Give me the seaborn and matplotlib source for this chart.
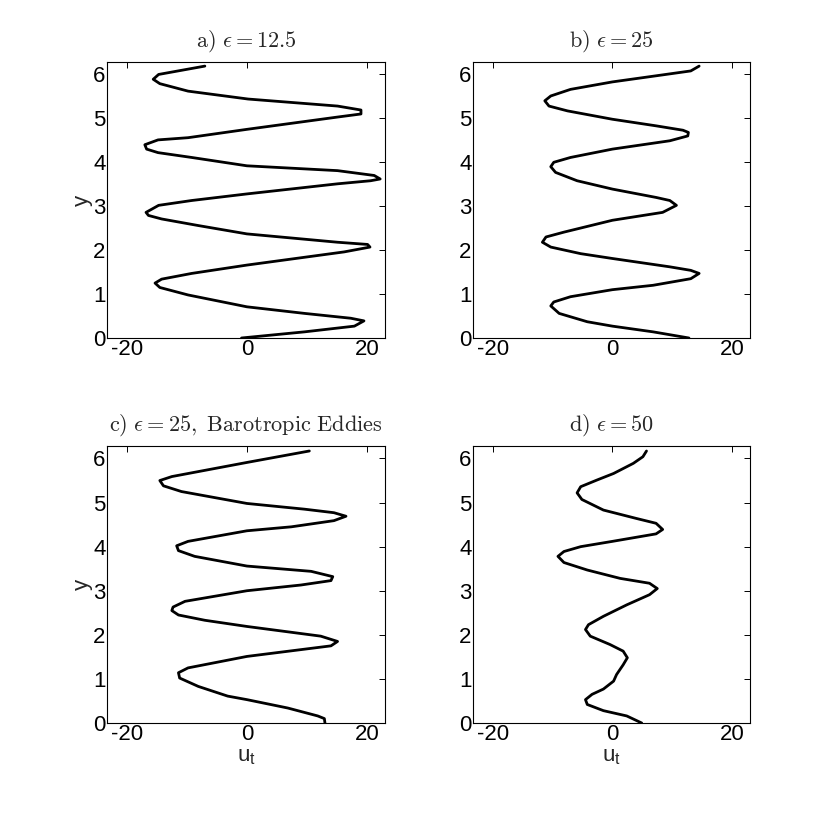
import matplotlib
matplotlib.use("Agg")
import matplotlib.pyplot as plt
import seaborn as sns
import numpy as np

sns.set_theme(style="white")
plt.rcParams['font.family'] = ['Liberation Sans', 'DejaVu Sans']
plt.rcParams['axes.unicode_minus'] = False
plt.rcParams['mathtext.fontset'] = 'custom'
plt.rcParams['mathtext.rm'] = 'Liberation Sans'
plt.rcParams['mathtext.it'] = 'Liberation Sans'

# panel a) eps = 12.5
y_a = [0.00, 0.14, 0.27, 0.39, 0.45, 0.56, 0.71, 0.98, 1.15, 1.25, 1.34, 1.47, 1.66, 1.96, 2.07,
       2.13, 2.18, 2.37, 2.56, 2.71, 2.79, 2.86, 3.02, 3.13, 3.28, 3.51, 3.58, 3.62, 3.70, 3.81,
       3.92, 4.11, 4.22, 4.30, 4.40, 4.51, 4.56, 4.75, 5.03, 5.10, 5.19, 5.28, 5.44, 5.62, 5.79,
       5.89, 6.00, 6.19]
u_a = [-0.9, 9.6, 17.9, 19.5, 17.3, 9.6, 0.0, -9.8, -14.5, -15.3, -14.2, -9.2, 0.0, 16.2, 20.5,
       20.1, 15.1, 0.0, -8.1, -14.2, -16.4, -16.8, -14.7, -9.2, 0.0, 15.1, 20.6, 22.2, 21.2, 15.1,
       0.0, -9.2, -14.8, -16.7, -17.0, -14.8, -9.8, 0.0, 15.1, 19.0, 19.0, 15.1, 0.2, -9.8, -14.5,
       -15.6, -14.7, -7.0]

# panel b) eps = 25
y_b = [0.00, 0.14, 0.27, 0.37, 0.56, 0.73, 0.82, 0.94, 1.10, 1.20, 1.35, 1.47, 1.54, 1.62, 1.81,
       1.92, 2.07, 2.18, 2.30, 2.41, 2.68, 2.86, 3.02, 3.13, 3.20, 3.39, 3.58, 3.77, 3.90, 4.00,
       4.11, 4.30, 4.49, 4.60, 4.68, 4.73, 4.83, 4.98, 5.17, 5.28, 5.40, 5.51, 5.66, 5.83, 5.99,
       6.08, 6.19]
u_b = [12.8, 6.8, 0.0, -4.2, -8.9, -10.3, -9.8, -7.0, 0.0, 6.8, 13.1, 14.5, 13.1, 9.6, 0.0,
       -5.3, -10.3, -11.7, -11.1, -8.1, 0.0, 8.4, 10.7, 9.6, 7.3, 0.0, -5.9, -9.5, -10.3, -9.8,
       -7.0, 0.0, 9.6, 12.6, 12.7, 11.8, 7.3, 0.0, -7.5, -10.6, -11.3, -10.3, -7.0, 0.0, 8.4,
       13.1, 14.5]

# panel c) eps = 25, barotropic eddies
y_c = [0.00, 0.10, 0.16, 0.34, 0.53, 0.61, 0.83, 1.02, 1.14, 1.25, 1.51, 1.75, 1.85, 1.97, 2.19,
       2.33, 2.45, 2.55, 2.63, 2.76, 3.00, 3.13, 3.23, 3.32, 3.44, 3.56, 3.78, 3.91, 4.02, 4.12,
       4.36, 4.45, 4.59, 4.69, 4.77, 4.85, 4.98, 5.25, 5.38, 5.50, 5.59, 5.91, 6.17]
u_c = [13.0, 12.9, 11.8, 6.8, 0.0, -3.2, -8.1, -11.2, -11.4, -9.8, 0.0, 14.0, 15.1, 12.3, 0.0,
       -7.0, -11.4, -12.5, -12.3, -10.3, 0.0, 9.0, 14.0, 14.3, 10.7, 0.0, -8.7, -11.4, -11.7, -9.8,
       0.0, 7.4, 14.5, 16.5, 14.5, 9.6, 0.0, -10.9, -13.9, -14.5, -12.5, 0.0, 10.4]

# panel d) eps = 50
y_d = [0.00, 0.16, 0.28, 0.42, 0.53, 0.65, 0.77, 0.95, 1.10, 1.32, 1.48, 1.63, 1.78, 1.97, 2.12,
       2.23, 2.42, 2.68, 2.91, 3.05, 3.17, 3.28, 3.47, 3.64, 3.78, 3.89, 4.00, 4.12, 4.29, 4.39,
       4.53, 4.64, 4.83, 5.07, 5.22, 5.36, 5.51, 5.66, 5.89, 6.04, 6.17]
u_d = [4.9, 2.4, -1.5, -4.2, -4.5, -3.4, -1.5, 0.2, 0.7, 1.8, 2.5, 1.8, -0.4, -3.7, -4.5,
       -4.0, -1.5, 2.4, 6.2, 7.5, 6.2, 1.3, -4.2, -8.1, -9.1, -8.1, -5.3, 0.0, 7.3, 8.4,
       7.3, 4.0, -1.5, -5.1, -5.9, -5.3, -2.6, 0.2, 3.5, 5.1, 5.7]

titles = [r'$\mathrm{a)}\ \epsilon = 12.5$',
          r'$\mathrm{b)}\ \epsilon = 25$',
          r'$\mathrm{c)}\ \epsilon = 25,\ \mathrm{Barotropic\ Eddies}$',
          r'$\mathrm{d)}\ \epsilon = 50$']
xticks = [-20, 0, 20]
yticks = [0, 1, 2, 3, 4, 5, 6]

W, H = 830, 813
fig = plt.figure(figsize=(W / 100, H / 100), dpi=100)

boxes = [(107, 62, 385, 338), (473, 62, 750, 338),
         (107, 446, 385, 723), (473, 446, 750, 723)]
data = [(u_a, y_a), (u_b, y_b), (u_c, y_c), (u_d, y_d)]

for i, ((x0, y0, x1, y1), (u, yv)) in enumerate(zip(boxes, data)):
    ax = fig.add_axes([x0 / W, 1 - y1 / H, (x1 - x0) / W, (y1 - y0) / H])
    sns.lineplot(x=u, y=yv, sort=False, estimator=None, color='black', lw=2.0, ax=ax)
    ax.set_xlim(-23.3, 23)
    ax.set_ylim(0, 2 * np.pi)
    ax.set_xticks(xticks)
    ax.set_yticks(yticks)
    ax.tick_params(direction='in', length=4, width=0.7, top=True, right=True,
                   labelsize=16, colors='black', pad=1)
    for s in ax.spines.values():
        s.set_color('black')
        s.set_linewidth(0.8)
        s.set_visible(True)
    ax.set_title(titles[i], fontsize=16, math_fontfamily='cm', pad=11)
    if i in (0, 2):
        ax.set_ylabel('y', fontsize=16, labelpad=0)
    else:
        ax.set_ylabel('')
    if i in (2, 3):
        ax.set_xlabel(r'$\mathrm{u_t}$', fontsize=16, labelpad=0.5)
    else:
        ax.set_xlabel('')
    ax.grid(False)

fig.savefig('out.png', dpi=100, facecolor='white')
